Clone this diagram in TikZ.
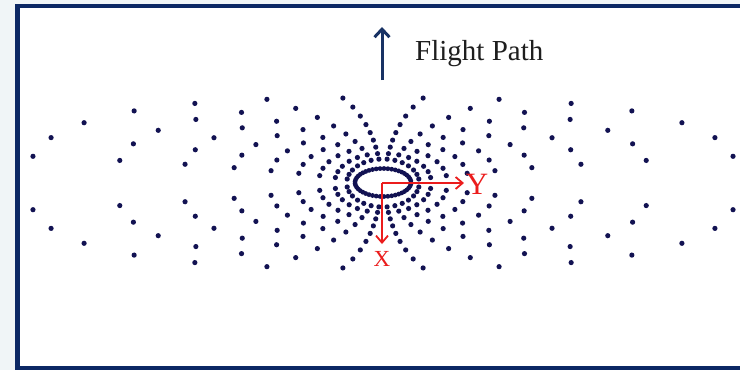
\documentclass[tikz,border=0pt]{standalone}
\usepackage{fontspec}
\setmainfont{Liberation Serif}
\usetikzlibrary{arrows.meta}
\definecolor{dotc}{RGB}{18,18,82}
\definecolor{framec}{RGB}{12,40,100}
\definecolor{bgc}{RGB}{240,245,247}
\definecolor{axc}{RGB}{235,28,28}
\definecolor{flc}{RGB}{24,50,100}
\definecolor{txtc}{RGB}{30,30,30}
\begin{document}
\begin{tikzpicture}[x=1pt,y=-1pt,
  axisline/.style={draw=axc,line width=1.8pt,-{Straight Barb[length=7pt,width=12pt,line width=1.8pt]}},
  flightline/.style={draw=flc,line width=3pt,-{Straight Barb[length=8pt,width=15pt,line width=3pt]}},
  dotmark/.style={fill=dotc}]
\useasboundingbox (0,0) rectangle (740,370);
\clip (0,0) rectangle (740,370);
\fill[bgc] (0,0) rectangle (740,370);
\draw[framec,line width=4.5pt,fill=white] (17.5,6) rectangle (760,368.5);
% dot field
\foreach \k/\b in {0/85,1/76,2/67,3/58.5,4/50.5,5/43,6/36,7/29.5,8/24}{
  \pgfmathsetmacro{\a}{355*0.752^\k}
  \pgfmathsetmacro{\p}{2.8-0.1*\k}
  \foreach \u in {0.986,0.935,0.842,0.701,0.53,0.327,0.113}{
    \pgfmathsetmacro{\dx}{\a*\u}
    \pgfmathsetmacro{\dy}{\b*(1-\u^\p)^(1/\p)}
    \foreach \sx in {-1,1}{
      \foreach \sy in {-1,1}{
        \fill[dotmark] ({383+(\sx)*\dx},{183+(\sy)*\dy}) circle[radius=2.6];
      }
    }
  }
}
% inner dense ring
\foreach \t in {0,8,...,352}{
  \fill[dotmark] ({383+28*cos(\t)},{182.5+14*sin(\t)}) circle[radius=2.4];
}
% axes
\coordinate (O) at (382,183);
\coordinate (Ytip) at (464,183);
\coordinate (Xtip) at (382,244);
\draw[axisline] (O) -- (Ytip);
\draw[axisline] (O) -- (Xtip);
\node[text=axc,font=\fontsize{31}{31}\selectfont,inner sep=0pt] (Ylab) at (477,184) {Y};
\node[text=axc,font=\fontsize{23}{23}\selectfont,inner sep=0pt] (Xlab) at (382,259) {X};
% flight path
\coordinate (F0) at (382,80);
\coordinate (F1) at (382,27);
\draw[flightline] (F0) -- (F1);
\node[anchor=base west,text=txtc,font=\fontsize{29}{29}\selectfont,inner sep=0pt] (FP) at (415,60) {Flight Path};
\end{tikzpicture}
\end{document}
